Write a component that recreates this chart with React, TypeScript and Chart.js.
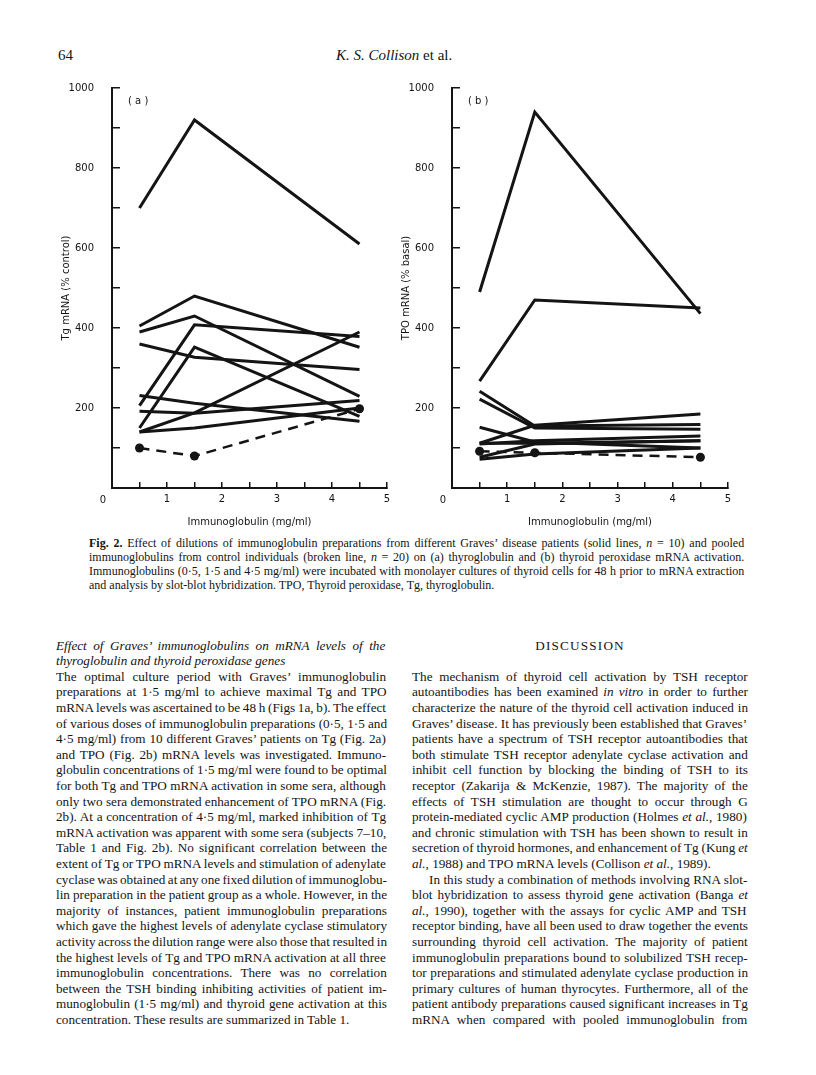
import React, { useEffect, useRef } from "react";
import { Chart, registerables } from "chart.js";

Chart.register(...registerables);

// ---------- data ----------
const doses = [0.5, 1.5, 4.5];
const xTickValues = [0, 1, 2, 3, 4, 5];
const yTickLabels = [200, 400, 600, 800, 1000];

const tgPatients = [
  [700, 920, 610],
  [405, 480, 352],
  [390, 430, 229],
  [206, 408, 379],
  [360, 327, 296],
  [150, 352, 179],
  [140, 188, 390],
  [231, 212, 167],
  [192, 187, 219],
  [140, 150, 200],
];
const tgControl = [100, 80, 198];

const tpoPatients = [
  [490, 940, 436],
  [267, 470, 450],
  [242, 155, 159],
  [222, 150, 147],
  [112, 157, 185],
  [152, 115, 100],
  [110, 118, 130],
  [112, 112, 118],
  [77, 110, 118],
  [72, 85, 100],
];
const tpoControl = [92, 88, 77];

const INK = "#141414";
const SANS = "'DejaVu Sans', sans-serif";
const SERIF = '"Liberation Serif"';

// ---------- text ----------
const headerPage = "64";
const headerAuthor = "K. S. Collison";
const headerEtAl = " et al.";

const captionLines = [
  "*Fig. 2.* Effect of dilutions of immunoglobulin preparations from different Graves’ disease patients (solid lines, _n_ = 10) and pooled",
  "immunoglobulins from control individuals (broken line, _n_ = 20) on (a) thyroglobulin and (b) thyroid peroxidase mRNA activation.",
  "Immunoglobulins (0·5, 1·5 and 4·5 mg/ml) were incubated with monolayer cultures of thyroid cells for 48 h prior to mRNA extraction",
  "and analysis by slot-blot hybridization. TPO, Thyroid peroxidase, Tg, thyroglobulin.",
];

const leftHeading = [
  "_Effect of Graves’ immunoglobulins on mRNA levels of the_",
  "_thyroglobulin and thyroid peroxidase genes_",
];

const leftBody = [
  "The optimal culture period with Graves’ immunoglobulin",
  "preparations at 1·5 mg/ml to achieve maximal Tg and TPO",
  "mRNA levels was ascertained to be 48 h (Figs 1a, b). The effect",
  "of various doses of immunoglobulin preparations (0·5, 1·5 and",
  "4·5 mg/ml) from 10 different Graves’ patients on Tg (Fig. 2a)",
  "and TPO (Fig. 2b) mRNA levels was investigated. Immuno-",
  "globulin concentrations of 1·5 mg/ml were found to be optimal",
  "for both Tg and TPO mRNA activation in some sera, although",
  "only two sera demonstrated enhancement of TPO mRNA (Fig.",
  "2b). At a concentration of 4·5 mg/ml, marked inhibition of Tg",
  "mRNA activation was apparent with some sera (subjects 7–10,",
  "Table 1 and Fig. 2b). No significant correlation between the",
  "extent of Tg or TPO mRNA levels and stimulation of adenylate",
  "cyclase was obtained at any one fixed dilution of immunoglobu-",
  "lin preparation in the patient group as a whole. However, in the",
  "majority of instances, patient immunoglobulin preparations",
  "which gave the highest levels of adenylate cyclase stimulatory",
  "activity across the dilution range were also those that resulted in",
  "the highest levels of Tg and TPO mRNA activation at all three",
  "immunoglobulin concentrations. There was no correlation",
  "between the TSH binding inhibiting activities of patient im-",
  "munoglobulin (1·5 mg/ml) and thyroid gene activation at this",
  "concentration. These results are summarized in Table 1.",
];
const leftLastLines = [22];

const rightHeading = "DISCUSSION";
const rightBody = [
  "The mechanism of thyroid cell activation by TSH receptor",
  "autoantibodies has been examined _in vitro_ in order to further",
  "characterize the nature of the thyroid cell activation induced in",
  "Graves’ disease. It has previously been established that Graves’",
  "patients have a spectrum of TSH receptor autoantibodies that",
  "both stimulate TSH receptor adenylate cyclase activation and",
  "inhibit cell function by blocking the binding of TSH to its",
  "receptor (Zakarija & McKenzie, 1987). The majority of the",
  "effects of TSH stimulation are thought to occur through G",
  "protein-mediated cyclic AMP production (Holmes _et al._, 1980)",
  "and chronic stimulation with TSH has been shown to result in",
  "secretion of thyroid hormones, and enhancement of Tg (Kung _et_",
  "_al._, 1988) and TPO mRNA levels (Collison _et al._, 1989).",
  "In this study a combination of methods involving RNA slot-",
  "blot hybridization to assess thyroid gene activation (Banga _et_",
  "_al._, 1990), together with the assays for cyclic AMP and TSH",
  "receptor binding, have all been used to draw together the events",
  "surrounding thyroid cell activation. The majority of patient",
  "immunoglobulin preparations bound to solubilized TSH recep-",
  "tor preparations and stimulated adenylate cyclase production in",
  "primary cultures of human thyrocytes. Furthermore, all of the",
  "patient antibody preparations caused significant increases in Tg",
  "mRNA when compared with pooled immunoglobulin from",
];
const rightLastLines = [12];
const rightIndentLines = [13];

// ---------- text helpers ----------
type Seg = { t: string; i: boolean; b: boolean };
function parse(s: string): Seg[] {
  const segs: Seg[] = [];
  let cur = "";
  let it = false;
  let bd = false;
  for (const ch of s) {
    if (ch === "_" || ch === "*") {
      if (cur) segs.push({ t: cur, i: it, b: bd });
      cur = "";
      if (ch === "_") it = !it;
      else bd = !bd;
    } else cur += ch;
  }
  if (cur) segs.push({ t: cur, i: it, b: bd });
  return segs;
}

let measureCtx: CanvasRenderingContext2D | null = null;
function getCtx() {
  if (!measureCtx) measureCtx = document.createElement("canvas").getContext("2d");
  return measureCtx!;
}
function fontOf(seg: Seg, size: number, family: string) {
  return `${seg.i ? "italic " : ""}${seg.b ? "bold " : ""}${size}px ${family}`;
}

function TextLine(props: {
  text: string;
  left: number;
  center: number;
  width: number;
  size: number;
  lh: number;
  justify: boolean;
  indent?: number;
  family?: string;
}) {
  const { text, left, center, width, size, lh, justify } = props;
  const indent = props.indent || 0;
  const family = props.family || SERIF;
  const segs = parse(text);
  let ws = 0;
  if (justify) {
    const ctx = getCtx();
    let w = 0;
    let spaces = 0;
    segs.forEach((s) => {
      ctx.font = fontOf(s, size, family);
      w += ctx.measureText(s.t).width;
      spaces += (s.t.match(/ /g) || []).length;
    });
    if (spaces) ws = (width - indent - w) / spaces;
  }
  return (
    <div
      style={{
        position: "absolute",
        left: left + indent,
        top: center - lh / 2,
        width: width - indent,
        height: lh,
        whiteSpace: "pre",
        fontFamily: family,
        fontSize: size,
        lineHeight: lh + "px",
        wordSpacing: ws + "px",
        color: INK,
      }}
    >
      {segs.map((s, k) => (
        <span
          key={k}
          style={{ fontStyle: s.i ? "italic" : "normal", fontWeight: s.b ? "bold" : "normal" }}
        >
          {s.t}
        </span>
      ))}
    </div>
  );
}

// ---------- chart panel ----------
function Panel(props: {
  patients: number[][];
  control: number[];
  yTitle: string;
  left: number;
  top: number;
  width: number;
  height: number;
  padRight: number;
}) {
  const ref = useRef<HTMLCanvasElement | null>(null);
  useEffect(() => {
    if (!ref.current) return;
    const toPts = (vals: number[]) => vals.map((v, i) => ({ x: doses[i], y: v }));
    const datasets: any[] = props.patients.map((p) => ({
      data: toPts(p),
      borderColor: INK,
      borderWidth: 3,
      pointRadius: 0,
      tension: 0,
      fill: false,
      borderCapStyle: "butt",
      borderJoinStyle: "miter",
    }));
    datasets.push({
      data: toPts(props.control),
      borderColor: INK,
      borderWidth: 2.5,
      borderDash: [10, 7],
      pointRadius: 4.5,
      pointBackgroundColor: INK,
      pointBorderWidth: 0,
      tension: 0,
      fill: false,
    });
    const cornerZero = {
      id: "cornerZero",
      afterDraw(chart: any) {
        const xs = chart.scales.x;
        const c = chart.ctx;
        c.save();
        c.fillStyle = INK;
        c.font = `10px ${SANS}`;
        c.textAlign = "center";
        c.textBaseline = "middle";
        c.fillText("0", xs.getPixelForValue(xTickValues[0]) - 9, xs.top + 12);
        c.restore();
      },
    };
    const chart = new Chart(ref.current, {
      type: "line",
      data: { datasets },
      plugins: [cornerZero],
      options: {
        animation: false,
        responsive: false,
        events: [],
        layout: { padding: { left: 0, top: 18, right: props.padRight, bottom: 0 } },
        plugins: { legend: { display: false }, tooltip: { enabled: false } },
        scales: {
          x: {
            type: "linear",
            min: 0,
            max: 5,
            afterFit: (s: any) => {
              s.height = 40;
              s.paddingLeft = 0;
              s.paddingRight = 4;
            },
            border: { display: true, color: INK, width: 2 },
            grid: { drawOnChartArea: false, drawTicks: true, tickLength: -6, color: INK, lineWidth: 1.5 },
            ticks: {
              stepSize: 0.5,
              autoSkip: false,
              maxRotation: 0,
              padding: 11,
              color: INK,
              font: { family: SANS, size: 10 },
              callback: (v: any) =>
                Number.isInteger(v) && v !== 0 && xTickValues.includes(v) ? String(v) : "",
            },
            title: {
              display: true,
              text: "Immunoglobulin (mg/ml)",
              color: INK,
              font: { family: SANS, size: 10 },
              padding: { top: 0, bottom: 0 },
            },
          },
          y: {
            type: "linear",
            min: 0,
            max: 1000,
            afterFit: (s: any) => {
              s.width = 72;
              s.paddingTop = 6;
              s.paddingBottom = 6;
            },
            border: { display: true, color: INK, width: 2 },
            grid: { drawOnChartArea: false, drawTicks: true, tickLength: -8, color: INK, lineWidth: 1.5 },
            ticks: {
              stepSize: 100,
              autoSkip: false,
              padding: 26,
              color: INK,
              font: { family: SANS, size: 10 },
              callback: (v: any) => (yTickLabels.includes(v) ? String(v) : ""),
            },
            title: {
              display: true,
              text: props.yTitle,
              color: INK,
              font: { family: SANS, size: 10 },
              padding: { top: 20, bottom: 0 },
            },
          },
        },
      } as any,
    });
    return () => chart.destroy();
  }, []);
  return (
    <canvas
      ref={ref}
      width={props.width}
      height={props.height}
      style={{ position: "absolute", left: props.left, top: props.top, width: props.width, height: props.height }}
    />
  );
}

export default function App() {
  const bodyLH = 15.6;
  const bodySize = 13.2;
  const bodyStart = 676.5;
  const leftX = 56;
  const leftW = 331;
  const rightX = 412;
  const rightW = 336;
  const capStart = 543;
  const capLH = 14;
  return (
    <div
      style={{
        position: "absolute",
        left: 0,
        top: 0,
        width: 816,
        height: 1075,
        background: "#fff",
        overflow: "hidden",
        color: INK,
      }}
    >
      {/* running header */}
      <div style={{ position: "absolute", left: 58, top: 46, fontFamily: SERIF, fontSize: 15, lineHeight: "18px" }}>
        {headerPage}
      </div>
      <div style={{ position: "absolute", left: 336, top: 46, fontFamily: SERIF, fontSize: 15, lineHeight: "18px", whiteSpace: "pre" }}>
        <span style={{ fontStyle: "italic" }}>{headerAuthor}</span>
        <span>{headerEtAl}</span>
      </div>

      {/* charts */}
      <Panel patients={tgPatients} control={tgControl} yTitle="Tg mRNA (% control)" left={40} top={70} width={360} height={458} padRight={13} />
      <Panel patients={tpoPatients} control={tpoControl} yTitle="TPO mRNA (% basal)" left={380} top={70} width={370} height={458} padRight={22} />
      <div style={{ position: "absolute", left: 128, top: 94, fontFamily: SANS, fontSize: 10, lineHeight: "14px", whiteSpace: "pre" }}>( a )</div>
      <div style={{ position: "absolute", left: 468, top: 94, fontFamily: SANS, fontSize: 10, lineHeight: "14px", whiteSpace: "pre" }}>( b )</div>

      {/* caption */}
      {captionLines.map((t, i) => (
        <TextLine key={"c" + i} text={t} left={89} center={capStart + capLH * i} width={656} size={12} lh={capLH} justify={i < captionLines.length - 1} />
      ))}

      {/* left column */}
      {leftHeading.map((t, i) => (
        <TextLine key={"lh" + i} text={t} left={leftX} center={bodyStart - bodyLH * (2 - i)} width={leftW} size={bodySize} lh={bodyLH} justify={i === 0} />
      ))}
      {leftBody.map((t, i) => (
        <TextLine key={"lb" + i} text={t} left={leftX} center={bodyStart + bodyLH * i} width={leftW} size={bodySize} lh={bodyLH} justify={!leftLastLines.includes(i)} />
      ))}

      {/* right column */}
      <div
        style={{
          position: "absolute",
          left: rightX,
          width: rightW,
          top: bodyStart - bodyLH * 2 - bodyLH / 2,
          height: bodyLH,
          textAlign: "center",
          fontFamily: SERIF,
          fontSize: bodySize,
          lineHeight: bodyLH + "px",
          letterSpacing: "1.2px",
        }}
      >
        {rightHeading}
      </div>
      {rightBody.map((t, i) => (
        <TextLine
          key={"rb" + i}
          text={t}
          left={rightX}
          center={bodyStart + bodyLH * i}
          width={rightW}
          size={bodySize}
          lh={bodyLH}
          indent={rightIndentLines.includes(i) ? 17 : 0}
          justify={!rightLastLines.includes(i)}
        />
      ))}
    </div>
  );
}
